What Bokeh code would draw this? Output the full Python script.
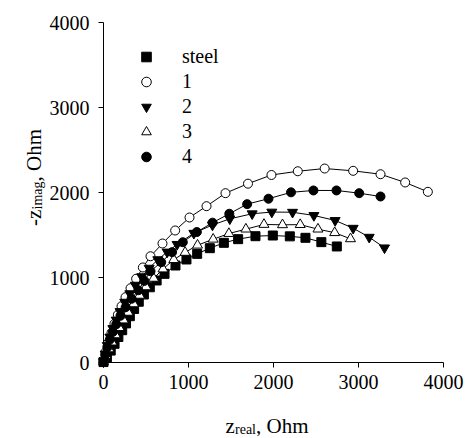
from bokeh.plotting import figure
from bokeh.models import Range1d, Label, Legend, LegendItem, FixedTicker
from bokeh.embed import file_html
from bokeh.resources import INLINE
import math

# ---- data ----
x_ticks = [0, 1000, 2000, 3000, 4000]
y_ticks = [0, 1000, 2000, 3000, 4000]

steel_x = [0, 40, 85, 130, 175, 220, 265, 310, 360, 415, 475, 545, 625, 718, 847, 976, 1102, 1251, 1416, 1584, 1788, 1992, 2192, 2376, 2563, 2745]
steel_y = [5, 60, 140, 220, 300, 380, 460, 545, 630, 715, 800, 885, 965, 1043, 1141, 1212, 1278, 1345, 1408, 1451, 1486, 1494, 1484, 1467, 1416, 1365]

s1_x = [4, 24, 55, 94, 129, 169, 212, 259, 318, 384, 463, 553, 694, 843, 1012, 1212, 1435, 1700, 1976, 2286, 2602, 2937, 3259, 3549, 3816]
s1_y = [24, 121, 231, 349, 455, 561, 662, 768, 874, 985, 1118, 1250, 1400, 1553, 1706, 1839, 1992, 2104, 2206, 2250, 2282, 2255, 2215, 2118, 2008]

s2_x = [0, 20, 45, 75, 110, 150, 195, 250, 310, 375, 450, 537, 639, 749, 866, 1063, 1282, 1486, 1749, 1980, 2224, 2475, 2725, 2937, 3126, 3306]
s2_y = [10, 100, 200, 300, 400, 500, 600, 710, 810, 910, 1010, 1110, 1210, 1300, 1390, 1521, 1618, 1690, 1750, 1770, 1768, 1730, 1671, 1580, 1474, 1349]

s3_x = [0, 30, 65, 100, 140, 185, 235, 290, 355, 425, 500, 590, 700, 827, 960, 1106, 1290, 1475, 1675, 1888, 2106, 2314, 2523, 2720, 2906]
s3_y = [10, 80, 160, 240, 325, 410, 500, 590, 690, 790, 890, 990, 1100, 1210, 1295, 1380, 1450, 1517, 1569, 1624, 1620, 1622, 1569, 1527, 1455]

s4_x = [0, 20, 45, 75, 110, 150, 200, 260, 330, 410, 480, 553, 679, 807, 933, 1098, 1283, 1480, 1690, 1941, 2206, 2470, 2741, 3008, 3259]
s4_y = [10, 90, 180, 270, 360, 450, 550, 650, 750, 850, 960, 1074, 1180, 1298, 1415, 1535, 1645, 1750, 1863, 1927, 2002, 2024, 2024, 1992, 1953]

labels = ["steel", "1", "2", "3", "4"]

FONT = "Liberation Serif"

W, H = 465, 436
# frame covers the whole canvas; axes are drawn at data position 0
PX = 340.0 / 4000.0           # pixels per Ohm
LEFT, TOP, BOTTOM = 103, 22, 362
x0 = -LEFT / PX
x1 = (W - LEFT) / PX
y1 = 4000 + TOP / PX
y0 = -(H - BOTTOM) / PX

p = figure(width=W, height=H, output_backend="svg", toolbar_location=None,
           x_range=Range1d(x0, x1), y_range=Range1d(y0, y1), min_border=0)
p.outline_line_color = None
p.grid.visible = False
p.background_fill_color = "white"
p.border_fill_color = "white"

for ax in (p.xaxis[0], p.yaxis[0]):
    ax.fixed_location = 0
    ax.bounds = (0, 4000)
    ax.major_label_text_font = FONT
    ax.major_label_text_font_size = "20px"
    ax.major_label_text_color = "black"
    ax.axis_line_color = "black"
    ax.major_tick_line_color = "black"
    ax.major_tick_out = 5
    ax.major_tick_in = 0
    ax.minor_tick_line_color = None
    ax.axis_label = None
p.xaxis[0].ticker = FixedTicker(ticks=x_ticks)
p.yaxis[0].ticker = FixedTicker(ticks=y_ticks)
p.xaxis[0].major_label_standoff = 7
p.yaxis[0].major_label_standoff = 9

series = [
    (steel_x, steel_y, "square", "black", 9),
    (s1_x, s1_y, "circle", "white", 9),
    (s2_x, s2_y, "inverted_triangle", "black", 10),
    (s3_x, s3_y, "triangle", "white", 10),
    (s4_x, s4_y, "circle", "black", 9),
]

for xs, ys, *_ in series:
    p.line(xs, ys, line_color="black", line_width=1)

items = []
for (xs, ys, marker, fill, size), lab in zip(series, labels):
    r = p.scatter(xs, ys, marker=marker, size=size, fill_color=fill,
                  line_color="black", line_width=1)
    items.append(LegendItem(label=lab, renderers=[r]))

leg = Legend(items=items, location=(134, 267), padding=0, margin=0,
             glyph_width=24, glyph_height=25, label_height=25, spacing=0,
             label_standoff=24, border_line_alpha=0, background_fill_alpha=0,
             label_text_font=FONT, label_text_font_size="20px",
             label_text_color="black", label_text_baseline="middle")
p.add_layout(leg, "center")

# ---- axis titles with subscripts ----
def lab(text, x, y, size, angle=0.0):
    p.add_layout(Label(x=x, y=y, x_units="screen", y_units="screen", text=text,
                       text_font=FONT, text_font_size=size, text_color="black",
                       text_align="left", text_baseline="alphabetic", angle=angle))

# x title: z_real, Ohm
lab("z", 225, 11, "21px")
lab("real", 234.5, 7, "14px")
lab(", Ohm", 255.5, 11, "21px")

# y title: -z_imag, Ohm (rotated)
a = math.pi / 2
lab("-z", 33, 210.5, "21px", a)
lab("imag", 37, 227, "14px", a)
lab(", Ohm", 33, 255, "21px", a)

open("out.html", "w").write(file_html(p, INLINE))
